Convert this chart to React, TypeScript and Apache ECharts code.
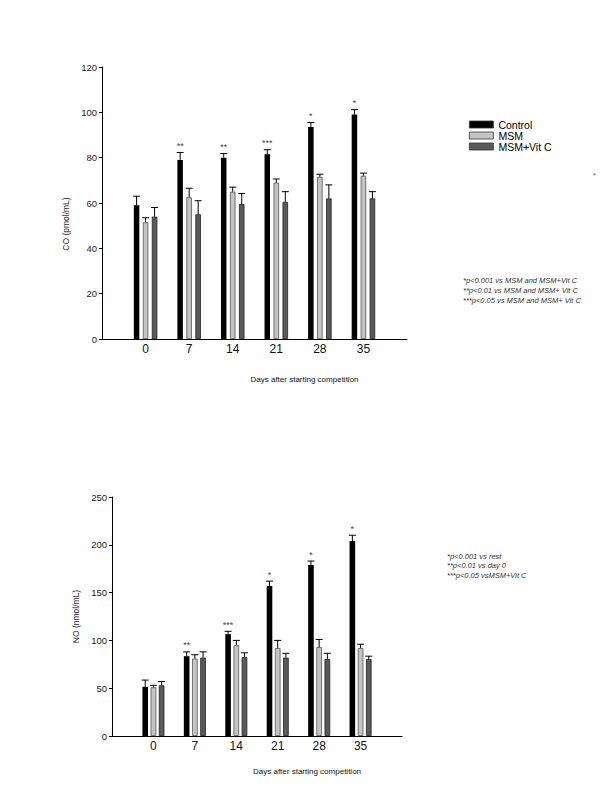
import React, { useEffect, useRef } from "react";
import * as echarts from "echarts";

const days = ["0", "7", "14", "21", "28", "35"];
const groupNames = ["Control", "MSM", "MSM+Vit C"];

const coControl = [59, 79, 80, 81.5, 93.5, 99];
const coControlErr = [4, 3.3, 1.8, 2, 2, 2.2];
const coMsm = [51.5, 62.5, 65, 69, 71.5, 72];
const coMsmErr = [2, 4, 2, 1.6, 1.2, 1.2];
const coVitC = [54, 55, 59.5, 60.5, 62, 62];
const coVitCErr = [4, 6, 4.7, 4.5, 6, 3];
const coStars = ["", "**", "**", "***", "*", "*"];

const noControl = [51.5, 83.5, 106.5, 157, 179, 204];
const noControlErr = [7, 4.5, 3, 5, 4, 6];
const noMsm = [51, 81, 95, 92, 93, 92];
const noMsmErr = [2, 4, 5, 8, 8, 4];
const noVitC = [53, 82, 82.5, 82, 80.5, 80.5];
const noVitCErr = [4, 6, 4.5, 4.5, 6, 3];
const noStars = ["", "**", "***", "*", "*", "*"];

const coNotes = [
  "*p<0.001 vs MSM and MSM+Vit C",
  "**p<0.01 vs MSM and MSM+ Vit C",
  "***p<0.05 vs MSM and MSM+ Vit C",
];
const noNotes = ["*p<0.001 vs rest", "**p<0.01 vs day 0", "***p<0.05 vsMSM+Vit C"];

const FONT = "'Liberation Sans', Arial, sans-serif";
const colors = ["#000000", "#c4c4c4", "#5a5a5a"];
const borders = ["#000000", "#555555", "#222222"];

function buildPanel(
  g: number,
  vals: number[][],
  errs: number[][],
  stars: string[],
  barWidth: number,
  gapPx: number
) {
  const series: any[] = [];
  const step = barWidth + gapPx;
  vals.forEach((v, k) => {
    series.push({
      type: "bar",
      name: groupNames[k],
      xAxisIndex: g,
      yAxisIndex: g,
      barWidth,
      barGap: (gapPx / barWidth) * 100 + "%",
      itemStyle: { color: colors[k], borderColor: borders[k], borderWidth: k === 0 ? 0 : 0.8 },
      data: [null, ...v, null],
    });
  });
  vals.forEach((v, k) => {
    const offset = (k - 1) * step;
    const e = errs[k];
    series.push({
      type: "custom",
      xAxisIndex: g,
      yAxisIndex: g,
      z: 5,
      encode: { x: 0, y: 1 },
      data: v.map((val, i) => [i + 1, val, e[i]]),
      renderItem: (params: any, api: any) => {
        const x = api.value(0);
        const val = api.value(1);
        const er = api.value(2);
        const p0 = api.coord([x, val]);
        const p1 = api.coord([x, val + er]);
        const cx = p0[0] + offset;
        const children: any[] = [
          {
            type: "line",
            shape: { x1: cx, y1: p0[1], x2: cx, y2: p1[1] },
            style: { stroke: "#000", lineWidth: 1 },
          },
          {
            type: "line",
            shape: { x1: cx - 3.5, y1: p1[1], x2: cx + 3.5, y2: p1[1] },
            style: { stroke: "#000", lineWidth: 1 },
          },
        ];
        if (k === 0 && stars[params.dataIndex]) {
          children.push({
            type: "text",
            x: cx,
            y: p1[1] - 2,
            style: {
              text: stars[params.dataIndex],
              fontSize: 9,
              fontFamily: FONT,
              fill: "#444",
              align: "center",
              verticalAlign: "bottom",
            },
          });
        }
        return { type: "group", children };
      },
    });
  });
  return series;
}

export default function App() {
  const ref = useRef<HTMLDivElement>(null);
  useEffect(() => {
    if (!ref.current) return;
    const chart = echarts.init(ref.current, undefined, { renderer: "svg" });
    const cats = ["", ...days, ""];
    const xAxisBase = (g: number, gap: number) => ({
      type: "category",
      gridIndex: g,
      data: cats,
      boundaryGap: false,
      axisLine: { lineStyle: { color: "#000", width: 1 } },
      axisTick: { show: false },
      axisLabel: { fontSize: 12, color: "#111", fontFamily: FONT, margin: 4, interval: 0 },
      name: "Days after starting competition",
      nameLocation: "middle",
      nameGap: gap,
      nameTextStyle: { fontSize: 8, color: "#111", fontFamily: FONT, padding: [0, 0, 0, 100] },
    });
    const yAxisBase = (g: number, max: number, interval: number, name: string, gap: number, pad: number) => ({
      type: "value",
      gridIndex: g,
      min: 0,
      max,
      interval,
      splitLine: { show: false },
      axisLine: { show: true, lineStyle: { color: "#000", width: 1 } },
      axisTick: { show: true, length: 3, lineStyle: { color: "#000" } },
      axisLabel: { fontSize: 9.5, color: "#222", fontFamily: FONT, margin: 5 },
      name,
      nameLocation: "middle",
      nameGap: gap,
      nameTextStyle: { fontSize: 8.5, color: "#2a1a2a", fontFamily: FONT, padding: [0, pad, 0, 0] },
    });
    const notes = (lines: string[], x: number, y0: number, dy: number) =>
      lines.map((t, i) => ({
        type: "text",
        left: x,
        top: y0 + i * dy,
        style: { text: t, fontSize: 7.5, fontStyle: "italic", fontFamily: FONT, fill: "#333" },
      }));
    chart.setOption({
      animation: false,
      backgroundColor: "#fff",
      grid: [
        { left: 102, top: 67, width: 305, height: 272 },
        { left: 112, top: 497, width: 290, height: 239 },
      ],
      xAxis: [xAxisBase(0, 36), xAxisBase(1, 31)],
      yAxis: [
        yAxisBase(0, 120, 20, "CO (pmol/mL)", 30, 42),
        yAxisBase(1, 250, 50, "NO (nmol/mL)", 32, 0),
      ],
      legend: {
        data: groupNames,
        orient: "vertical",
        left: 464,
        top: 114,
        icon: "rect",
        itemWidth: 24,
        itemHeight: 7,
        itemGap: 0,
        itemStyle: { borderColor: "#333", borderWidth: 0.8 },
        textStyle: { fontSize: 10.5, color: "#000", fontFamily: FONT },
      },
      graphic: [
        ...notes(coNotes, 463, 276, 10),
        ...notes(noNotes, 447, 552, 9.5),
        {
          type: "text",
          left: 593,
          top: 172,
          style: { text: "*", fontSize: 7, fill: "#555", fontFamily: FONT },
        },
      ],
      series: [
        ...buildPanel(0, [coControl, coMsm, coVitC], [coControlErr, coMsmErr, coVitCErr], coStars, 5.5, 3.5),
        ...buildPanel(1, [noControl, noMsm, noVitC], [noControlErr, noMsmErr, noVitCErr], noStars, 5.6, 2.6),
      ],
    });
    return () => chart.dispose();
  }, []);
  return (
    <div
      ref={ref}
      style={{ position: "absolute", left: 0, top: 0, width: 600, height: 800 }}
    />
  );
}
